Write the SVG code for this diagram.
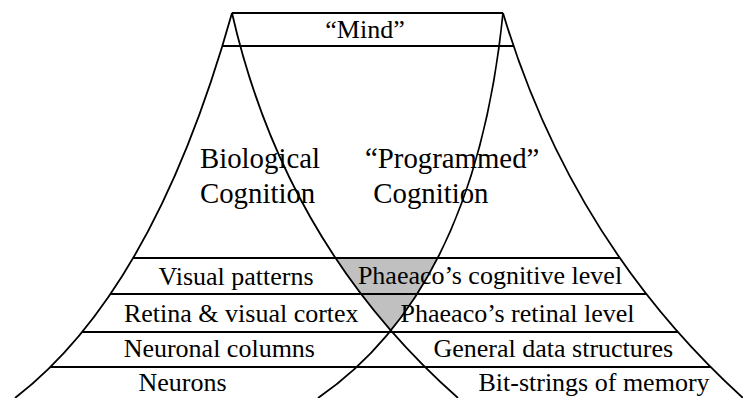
<svg xmlns="http://www.w3.org/2000/svg" width="743" height="398" viewBox="0 0 743 398">
<style>
.ln{fill:none;stroke:#000;stroke-width:1.8}
.t{font-family:"Times New Roman","Liberation Serif",Tinos,serif;font-size:26px;fill:#000}
.m{text-anchor:middle}
.big{font-size:28.8px}
</style>
<g id="overlap">
<path d="M335.4,258 Q360.65,295.87 390.8,330.45 Q417.18,298.11 437.6,258 Z" fill="#c0c0c0"/>
</g>
<g id="connectors">
<path id="bio-left" class="ln" d="M232,13 Q154,291 15,398"/>
<path id="bio-right" class="ln" d="M232,13 Q285,245 458,398"/>
<path id="prog-left" class="ln" d="M503,13 Q475,290 318,398"/>
<path id="prog-right" class="ln" d="M503,13 Q571.8,242.4 743,398"/>
<path id="levels" class="ln" d="M232,13 H503 M222.3,46 H513.5 M133,258 H619.8 M110.5,294 H646 M82.2,332 H677.9 M50.4,367 H710.6"/>
</g>
<g id="labels">
<g id="mind"><text class="t m" x="365" y="38">“Mind”</text></g>
<g id="biological"><text class="t big" x="200" y="168">Biological</text><text class="t big" x="200" y="202.5">Cognition</text></g>
<g id="programmed"><text class="t big" x="365" y="168">“Programmed”</text><text class="t big" x="373.3" y="202.5">Cognition</text></g>
<g id="visual-patterns"><text class="t m" x="236" y="284.5">Visual patterns</text></g>
<g id="retina"><text class="t m" x="241.3" y="322">Retina &amp; visual cortex</text></g>
<g id="neuronal-columns"><text class="t m" x="219.3" y="357">Neuronal columns</text></g>
<g id="neurons"><text class="t m" x="182.5" y="391">Neurons</text></g>
<g id="cognitive-level"><text class="t m" x="490" y="284">Phaeaco’s cognitive level</text></g>
<g id="retinal-level"><text class="t m" x="517.5" y="322">Phaeaco’s retinal level</text></g>
<g id="data-structures"><text class="t m" x="553.3" y="357">General data structures</text></g>
<g id="bit-strings"><text class="t m" x="594" y="391">Bit-strings of memory</text></g>
</g>
</svg>
